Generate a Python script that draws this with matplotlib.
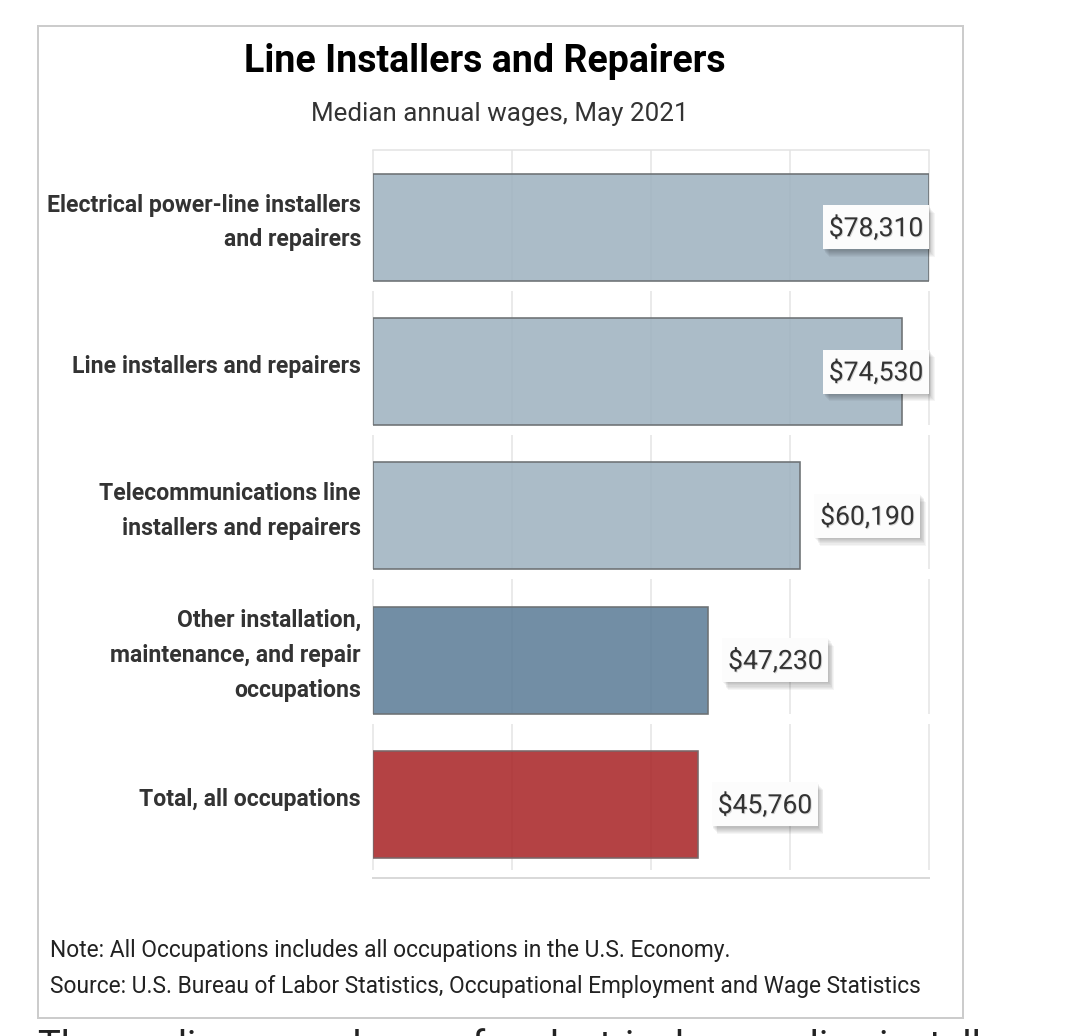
import matplotlib
matplotlib.use('Agg')
import matplotlib.pyplot as plt
from matplotlib.patches import Rectangle
from matplotlib.colors import to_rgb
import matplotlib.patheffects as pe

# ---------------- data ----------------
categories = [
    "Electrical power-line installers\nand repairers",
    "Line installers and repairers",
    "Telecommunications line\ninstallers and repairers",
    "Other installation,\nmaintenance, and repair\noccupations",
    "Total, all occupations",
]
wages = [78310, 74530, 60190, 47230, 45760]
value_labels = ["$78,310", "$74,530", "$60,190", "$47,230", "$45,760"]
bar_colors = ["#acbdc9", "#acbdc9", "#acbdc9", "#728ea6", "#b44244"]

title = "Line Installers and Repairers"
subtitle = "Median annual wages, May 2021"
note_lines = [
    "Note: All Occupations includes all occupations in the U.S. Economy.",
    "Source: U.S. Bureau of Labor Statistics, Occupational Employment and Wage Statistics",
]
page_text = "The median annual wage for electrical power-line installers and repairers"

# ---------------- layout ----------------
W, H, DPI = 1080, 1036, 100
plt.rcParams['font.family'] = ['Roboto', 'DejaVu Sans']
fig = plt.figure(figsize=(W / DPI, H / DPI), dpi=DPI)


def pt(n):
    return n * 72 / DPI


def fx(x):
    return x / W


def fy(y):
    return 1 - y / H


# outer frame
fig.patches.append(Rectangle((fx(38), fy(1018)), (963 - 38) / W, (1018 - 26) / H,
                             transform=fig.transFigure, fill=False,
                             edgecolor='#cccccc', linewidth=pt(2)))

AX_L, AX_R, AX_T, AX_B = 373, 929, 150, 878
ax = fig.add_axes([fx(AX_L), fy(AX_B), (AX_R - AX_L) / W, (AX_B - AX_T) / H])
xmax = max(wages)
y_top, y_bot = -0.537, 4.51
ax.set_xlim(0, xmax)
ax.set_ylim(y_bot, y_top)
ax.set_xticks([])
ax.set_yticks([])

px_x = xmax / (AX_R - AX_L)        # data units per pixel (x)
px_y = (y_bot - y_top) / (AX_B - AX_T)  # data units per pixel (y)

bar_h = 107 * px_y

# vertical gridlines, broken just below each bar
grid_x = [xmax * k / 4 for k in range(5)]
segs_start = [y_top] + [i + bar_h / 2 + 10 * px_y for i in range(len(wages) - 1)]
segs_end = [i + bar_h / 2 for i in range(len(wages) - 1)] + [y_bot - 8 * px_y]
for gx in grid_x:
    for s, e in zip(segs_start, segs_end):
        ax.plot([gx, gx], [s, e], color='#e6e6e6', lw=pt(1.6), zorder=1,
                solid_capstyle='butt', clip_on=False)

# bars (slightly translucent so gridlines show through faintly)
alpha = 0.85
faces = []
for c in bar_colors:
    r, g, b = to_rgb(c)
    faces.append(tuple(max(0, (v - (1 - alpha)) / alpha) for v in (r, g, b)) + (alpha,))
edge_colors = ['#6d7174', '#6d7174', '#6d7174', '#6d7174', '#7a6668']
ax.barh(range(len(wages)), wages, height=bar_h, color=faces,
        edgecolor=edge_colors, linewidth=pt(1.6), zorder=2)

# value label boxes with soft shadow
box_w, box_h = 106 * px_x, 44 * px_y
for i, (v, lab) in enumerate(zip(wages, value_labels)):
    left = v + 14 * px_x
    if left + box_w > xmax:
        left = xmax - box_w
    bottom = i - box_h / 2
    for k in range(1, 8):
        ax.add_patch(Rectangle((left + k * 0.8 * px_x, bottom + k * 1.1 * px_y), box_w, box_h,
                               facecolor='black', edgecolor='none', alpha=0.04,
                               zorder=3, clip_on=False))
    ax.add_patch(Rectangle((left, bottom), box_w, box_h, facecolor='#fcfcfc',
                           edgecolor='none', zorder=4, clip_on=False))
    ax.text(left + box_w / 2, i + 1 * px_y, lab, ha='center', va='center',
            fontsize=pt(26.5), color='#333333', zorder=5,
            path_effects=[pe.withSimplePatchShadow(offset=(0.7, -0.7), shadow_rgbFace='black', alpha=0.15)])

# category labels
for i, cat in enumerate(categories):
    ax.text(-12 / (AX_R - AX_L), i - 5 * px_y, cat, transform=ax.get_yaxis_transform(),
            ha='right', va='center', fontsize=pt(23), fontweight='bold',
            color='#333333', linespacing=1.66)

# spines
for s in ['left', 'right']:
    ax.spines[s].set_visible(False)
ax.spines['top'].set_color('#e3e3e3')
ax.spines['top'].set_linewidth(pt(1.5))
ax.spines['bottom'].set_color('#d9d9d9')
ax.spines['bottom'].set_linewidth(pt(2))

# titles
fig.text(fx(485), fy(61), title, ha='center', va='center', fontsize=pt(37.5),
         fontweight='bold', color='#000000')
fig.text(fx(500), fy(114), subtitle, ha='center', va='center', fontsize=pt(26),
         color='#333333')

# notes
fig.text(fx(50), fy(951), note_lines[0], ha='left', va='center', fontsize=pt(22.7), color='#222222')
fig.text(fx(50), fy(986), note_lines[1], ha='left', va='center', fontsize=pt(22.7), color='#222222')

# page text cut off by the bottom edge (as in the reference)
fig.text(fx(38), fy(1058), page_text, ha='left', va='baseline', fontsize=pt(38.3), color='#222222')

fig.savefig('out.png', dpi=DPI)
